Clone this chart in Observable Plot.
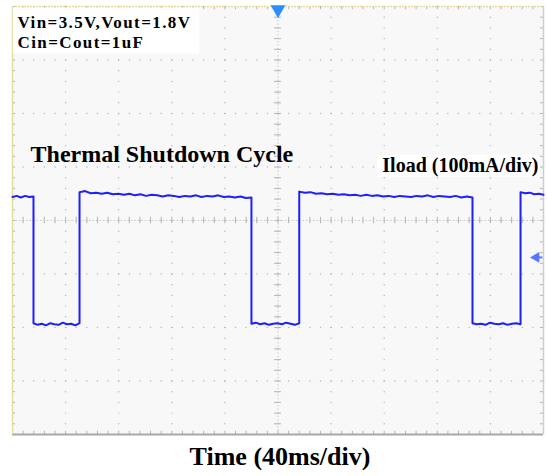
<!DOCTYPE html>
<html>
<head>
<meta charset="utf-8">
<script src="https://cdn.jsdelivr.net/npm/d3@7"></script>
<script src="https://cdn.jsdelivr.net/npm/@observablehq/plot@0.6"></script>
<style>
  body { margin: 0; background: #fff; }
  #chart svg { display: block; }
  #xlabel { font: bold 26px "Liberation Serif", "Times New Roman", serif; text-align: center;
            padding-left: 13px; line-height: 26px; margin-top: 4px; color: #000; }
</style>
</head>
<body>
<div id="chart"></div>
<div id="xlabel">Time (40ms/div)</div>
<script>
// ---- Data (time in ms, level in scope divisions; 100 mA/div) ----
const edgesMs = [0, 15.8, 50.5, 180.0, 216.0, 346.5, 382.7, 400];
const seg0High = [0.44, 0.46, 0.43, 0.46, 0.44, 0.45];
const seg1Low  = [-1.92, -1.95, -1.93, -1.96, -1.92, -1.94, -1.95, -1.91, -1.94, -1.93, -1.96, -1.92];
const seg2High = [0.53, 0.55, 0.51, 0.52, 0.50, 0.52, 0.49, 0.50, 0.48, 0.50, 0.47, 0.49, 0.46, 0.48, 0.47, 0.45,
                  0.47, 0.46, 0.44, 0.46, 0.45, 0.47, 0.44, 0.46, 0.45, 0.47, 0.44, 0.45, 0.43, 0.45, 0.42, 0.43];
const seg3Low  = [-1.93, -1.91, -1.94, -1.92, -1.95, -1.93, -1.92, -1.94, -1.91, -1.93, -1.95, -1.92];
const seg4High = [0.54, 0.52, 0.53, 0.50, 0.51, 0.49, 0.50, 0.48, 0.49, 0.47, 0.48, 0.46, 0.48, 0.46, 0.47, 0.45,
                  0.46, 0.44, 0.46, 0.45, 0.44, 0.46, 0.45, 0.47, 0.44, 0.46, 0.45, 0.44, 0.46, 0.43, 0.45, 0.43];
const seg5Low  = [-1.92, -1.94, -1.93, -1.95, -1.91, -1.93, -1.94, -1.92, -1.95, -1.93, -1.92, -1.94];
const seg6High = [0.53, 0.51, 0.52, 0.49, 0.50, 0.48];
const segments = [seg0High, seg1Low, seg2High, seg3Low, seg4High, seg5Low, seg6High];

const labelsTop = ["Vin=3.5V,Vout=1.8V", "Cin=Cout=1uF"];
const titleText = "Thermal Shutdown Cycle";
const channelText = "Iload (100mA/div)";
const triggerMs = [200];
const channelMarkerDiv = [-0.69];

// ---- Build trace: uniform sampling inside each segment ----
const trace = [];
segments.forEach((vals, i) => {
  const t0 = edgesMs[i], t1 = edgesMs[i + 1];
  vals.forEach((v, j) => trace.push({t: t0 + (t1 - t0) * j / (vals.length - 1), v}));
});

// ---- Graticule ----
const majorX = d3.range(40, 400, 40);
const majorY = d3.range(-3, 4, 1);
const minorY = d3.range(-4, 4.001, 0.2);
const minorX = d3.range(0, 400.001, 8);
const gridDots = [
  ...d3.cross(majorX, minorY).map(([x, y]) => ({x, y})),
  ...d3.cross(minorX, majorY).map(([x, y]) => ({x, y}))
];
const gridColor = "#b3b3b3";
const serif = '"Liberation Serif", "Times New Roman", serif';

const plot = Plot.plot({
  width: 547, height: 440,
  marginLeft: 12, marginRight: 4, marginTop: 6, marginBottom: 6,
  x: {domain: [0, 400], axis: null},
  y: {domain: [-4, 4], axis: null},
  style: {background: "#fff"},
  marks: [
    Plot.frame({fill: "#f8f8f8", stroke: "none"}),
    Plot.dot(gridDots, {x: "x", y: "y", r: 0.7, fill: gridColor, stroke: "none"}),
    // center axes with tick marks
    Plot.ruleY(minorY, {y: d => d, x1: 200 - 2.6, x2: 200 + 2.6, stroke: gridColor, strokeWidth: 1}),
    Plot.ruleX(minorX, {x: d => d, y1: -0.06, y2: 0.06, stroke: gridColor, strokeWidth: 1}),
    Plot.ruleX([200], {stroke: "#c8c8c8", strokeWidth: 1, strokeDasharray: "1.5,2"}),
    Plot.ruleY([0], {stroke: "#c8c8c8", strokeWidth: 1, strokeDasharray: "1.5,2"}),
    // edge ticks
    Plot.ruleX(minorX, {x: d => d, y1: 4, y2: 3.94, stroke: gridColor}),
    Plot.ruleX(minorX, {x: d => d, y1: -4, y2: -3.94, stroke: gridColor}),
    Plot.ruleY(minorY, {y: d => d, x1: 0, x2: 2.3, stroke: gridColor}),
    Plot.ruleY(minorY, {y: d => d, x1: 400, x2: 397.7, stroke: gridColor}),
    // borders
    Plot.ruleY([-4], {stroke: "#a8a8a8", strokeWidth: 2}),
    Plot.ruleY([4], {stroke: "#e2dd9a", strokeWidth: 1.5, strokeDasharray: "2,1"}),
    Plot.ruleX([0], {stroke: "#e2dd9a", strokeWidth: 1.5}),
    Plot.ruleX([400], {stroke: "#cfcfcf", strokeWidth: 1.5}),
    // annotation backgrounds
    Plot.rect([0], {x1: 0.6, x2: 141, y1: 3.11, y2: 3.97, fill: "#fff"}),
    Plot.rect([0], {x1: 275, x2: 397.5, y1: 0.81, y2: 1.22, fill: "#fff"}),
    // trace
    Plot.line(trace, {x: "t", y: "v", stroke: "#1e1eff", strokeWidth: 2, curve: "linear"}),
    // trigger marker and channel marker
    Plot.dot(triggerMs, {x: d => d, y: 4, dy: 3, symbol: "triangle", rotate: 180, r: 5.5, fill: "#2a8cff", stroke: "none"}),
    Plot.dot(channelMarkerDiv, {x: 394.5, y: d => d, symbol: "triangle", rotate: -90, r: 4, fill: "#5a78ff", stroke: "none"}),
    Plot.ruleY(channelMarkerDiv, {y: d => d, x1: 395, x2: 399.5, stroke: "#5a78ff", strokeWidth: 2}),
    // texts
    Plot.text([labelsTop[0]], {x: 3.8, y: 3.70, text: d => d, textAnchor: "start", lineAnchor: "middle",
      fontSize: 17, fontWeight: "bold", fontFamily: serif, fill: "#000"}),
    Plot.text([labelsTop[1]], {x: 3.8, y: 3.326, text: d => d, textAnchor: "start", lineAnchor: "middle",
      fontSize: 17, fontWeight: "bold", fontFamily: serif, fill: "#000"}),
    Plot.text([titleText], {x: 13.6, y: 1.228, text: d => d, textAnchor: "start", lineAnchor: "middle",
      fontSize: 24, fontWeight: "bold", fontFamily: serif, fill: "#000"}),
    Plot.text([channelText], {x: 396.2, y: 1.017, text: d => d, textAnchor: "end", lineAnchor: "middle",
      fontSize: 20, fontWeight: "bold", fontFamily: serif, fill: "#000"})
  ]
});
// letter spacing on the condition labels, as in the scope annotation
d3.select(plot).selectAll("text").filter(function() { return labelsTop.includes(this.textContent); })
  .style("letter-spacing", "1.4px");
document.getElementById("chart").appendChild(plot);
</script>
</body>
</html>
